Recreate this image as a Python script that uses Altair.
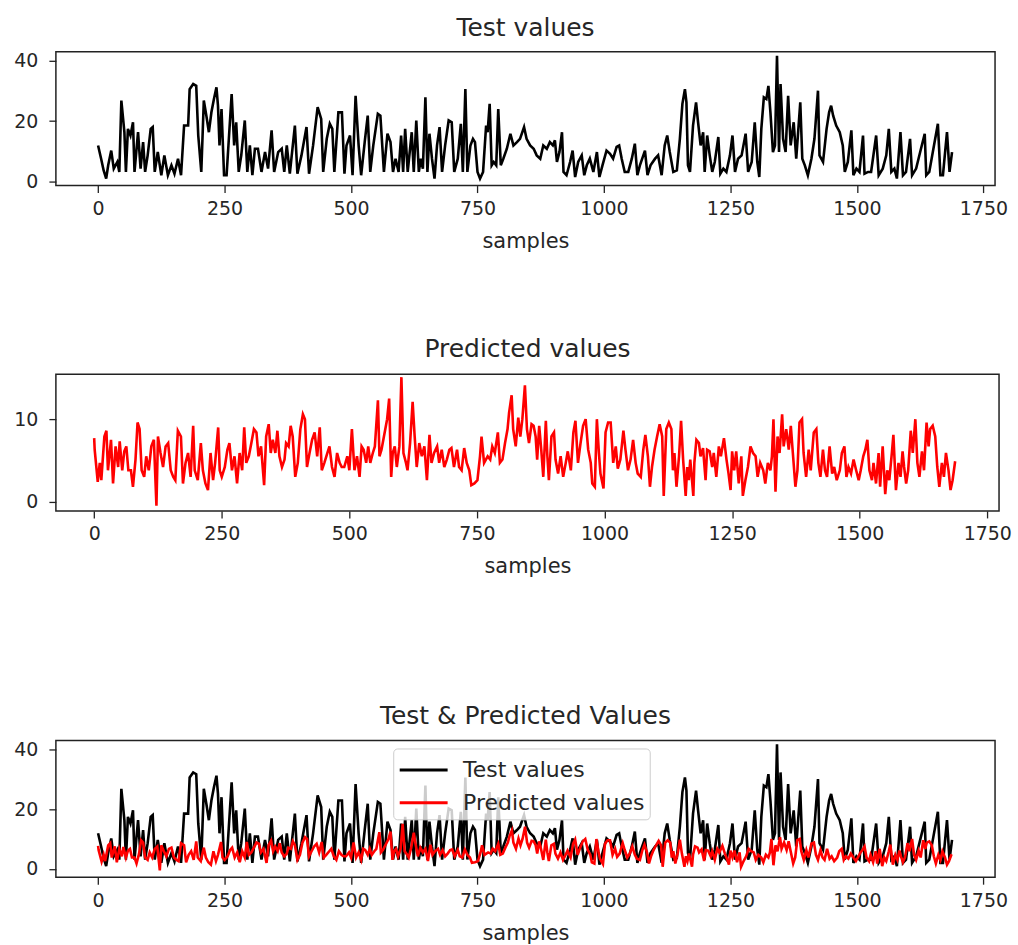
import altair as alt
import pandas as pd

# ---------------- data ----------------
test_samples = [0, 6, 11, 16, 20, 26, 31, 38, 42, 46, 52, 55, 59, 64, 69, 72, 79, 84, 89, 93, 98, 104, 108, 112,
                118, 125, 131, 138, 145, 151, 158, 164, 170, 178, 181, 188, 194, 198, 204, 209, 214, 219, 224, 229,
                234, 237, 240, 244, 249, 254, 264, 269, 273, 278, 283, 290, 295, 300, 305, 310, 316, 323, 330, 336,
                343, 348, 356, 363, 368, 373, 379, 389, 394, 402, 412, 417, 425, 434, 441, 445, 452, 458, 463, 467,
                475, 482, 487, 491, 498, 503, 509, 515, 520, 527, 533, 538, 544, 553, 558,
                565, 572, 578, 583, 588, 594, 599, 603, 607, 612, 620, 624, 629, 634, 638, 642, 647, 651, 655, 660,
                665, 670, 675, 680, 686, 693, 699, 704, 711, 717, 721, 726, 730, 736, 741, 745, 750, 755, 761, 767,
                770, 774, 778, 782, 787, 791, 796, 801, 808, 815, 821, 828, 834, 842, 847, 854, 861, 867, 874, 880,
                887, 893, 899, 903, 907, 912, 917, 920, 926, 933, 938, 943, 949, 956, 961, 966, 972, 979, 986, 991,
                997, 1005, 1012, 1018, 1025, 1030, 1035, 1041, 1048, 1055, 1061, 1066, 1071, 1081, 1086, 1092, 1101,
                1107, 1114, 1120, 1125, 1130, 1137, 1144,
                1150, 1155, 1160, 1163, 1166, 1170, 1176, 1182, 1186, 1191, 1196, 1199, 1204, 1209, 1214, 1219, 1226,
                1230, 1236, 1242, 1249, 1254, 1259, 1265, 1272, 1280, 1285, 1292, 1298, 1303, 1307, 1311, 1316, 1321,
                1325, 1329, 1334, 1338, 1342, 1346, 1349, 1354, 1359, 1364, 1369, 1375, 1380, 1388, 1392, 1397, 1403,
                1410, 1416, 1423, 1426, 1433, 1440, 1445, 1449, 1453, 1459, 1466, 1472, 1476, 1482, 1489, 1493, 1499,
                1505, 1512, 1515, 1522, 1528, 1538, 1543, 1551, 1558, 1563, 1568, 1574, 1579, 1586, 1591, 1597, 1605,
                1609, 1617, 1625, 1634, 1637, 1643, 1650, 1660, 1665, 1670, 1678, 1683, 1688]
test_values = [11.9, 7.5, 3.6, 0.9, 5.3, 10.2, 4.2, 6.4, 3.1, 26.8, 16.3, 3.1, 17.4, 15.2, 19.6, 3.1, 16.3, 4.2, 13.0,
               3.1, 8.6, 17.4, 18.0, 3.1, 9.7, 2.0, 8.6, 2.0, 5.3, 2.5, 7.5, 2.0, 18.5, 18.5, 30.6, 32.3, 31.7, 15.2,
               3.1, 26.8, 21.8, 16.3, 22.9, 27.3, 31.2, 25.1, 11.9, 24.0, 2.0, 2.0, 29.0, 11.9, 19.6, 3.1, 8.6, 20.2,
               3.1, 11.9, 2.0, 10.8, 10.8, 3.1, 9.7, 4.2, 16.9, 3.1, 9.7, 10.8, 3.1, 11.9, 2.5, 18.5, 2.5, 8.6, 18.0,
               2.5, 11.9, 24.6, 20.7, 3.1, 14.1, 19.1, 17.4, 3.1, 22.9, 22.9, 2.5, 11.9, 15.2, 2.0, 28.4, 11.9, 2.0,
               13.0, 21.8, 3.1, 11.9, 22.4, 21.8,
               3.1, 15.8, 13.0, 3.1, 7.5, 3.1, 15.2, 3.1, 17.4, 3.1, 16.3, 3.1, 20.2, 3.1, 7.5, 4.2, 27.9, 3.1, 15.8,
               7.5, 0.9, 11.9, 18.0, 3.1, 11.9, 20.2, 19.6, 3.1, 7.5, 19.1, 3.1, 30.6, 3.1, 11.9, 14.1, 13.0, 3.1,
               0.9, 3.1, 18.5, 16.3, 25.7, 5.3, 6.4, 5.3, 24.0, 5.3, 7.5, 10.8, 15.8, 11.9, 13.0, 14.1, 18.0, 14.1,
               11.9, 10.8, 8.6, 7.5, 11.9, 10.8, 13.0, 11.9, 13.6, 6.4, 9.7, 16.3, 3.1, 2.0, 6.4, 10.2, 1.4, 6.4, 8.6,
               2.0, 5.3, 7.5, 3.1, 9.7, 1.4, 5.3, 10.2, 9.1, 7.5, 11.4, 11.9, 7.5, 3.1, 3.1, 7.5, 12.5, 2.0, 5.3, 10.2,
               2.0, 5.3, 7.5, 8.6, 2.0, 11.9, 15.2, 9.7, 3.1, 3.6,
               14.1, 25.7, 30.6, 26.2, 5.3, 3.1, 18.5, 26.2, 19.6, 11.9, 16.3, 3.1, 15.2, 8.6, 3.1, 6.4, 14.7, 2.5,
               4.2, 3.1, 8.6, 15.2, 3.1, 7.5, 8.6, 15.8, 3.1, 6.4, 19.6, 6.4, 1.4, 17.4, 27.9, 27.3, 31.7, 22.9, 9.7,
               11.9, 41.7, 9.7, 32.3, 14.1, 9.7, 28.4, 11.9, 19.6, 7.5, 26.2, 7.5, 5.3, 2.0, 7.5, 14.1, 30.1, 8.6, 6.4,
               17.4, 22.9, 25.1, 21.8, 18.5, 16.3, 11.9, 3.1, 6.4, 16.9, 2.0, 4.2, 3.1, 15.2, 2.5, 3.1, 3.1, 15.2, 2.0,
               4.2, 8.6, 17.4, 3.1, 4.2, 0.9, 16.3, 2.0, 3.1, 14.1, 2.0, 4.2, 9.7, 15.8, 2.0, 3.1, 9.7, 19.1, 2.0, 2.0,
               16.3, 3.1, 9.7]

pred_samples = [0, 1, 7, 11, 14, 20, 24, 27, 33, 37, 42, 47, 50, 55, 59, 63, 67, 72, 76, 81, 85, 89, 93, 98, 102,
                107, 112, 117, 122, 125, 130, 135, 140, 145, 150, 155, 159, 164, 170, 174, 179, 184, 189, 194, 197,
                203, 209, 213, 218, 223, 228, 233, 237, 243, 246, 250, 256, 261, 265, 270, 275, 280, 285, 290, 294,
                298, 303, 308, 313, 318, 322, 327, 333, 337, 342, 346, 350, 355, 359, 363, 368, 373, 376, 381, 385,
                389, 394, 399, 404, 409, 413, 417, 422, 427, 432, 437, 442, 446, 451, 457, 461, 466, 471, 476, 481,
                485, 490, 496, 500, 505, 510, 515, 520, 524, 528, 533, 537, 541, 546, 550, 556, 559, 563,
                574, 578, 582, 585, 589, 593, 598, 602, 606, 611, 614, 619, 624, 628, 632, 637, 642, 647, 652, 657,
                661, 666, 672, 676, 681, 686, 691, 696, 700, 705, 711, 715, 720, 725, 730, 735, 739, 745, 751, 756,
                759, 764, 771, 776, 780, 785, 791, 795, 800, 805, 810, 813, 818, 821, 826, 831, 835, 839, 844, 848,
                852, 857, 861, 865, 868, 872, 876, 880, 885, 888, 891, 896, 901, 904, 909, 914, 919, 924, 928, 934,
                939, 943, 948, 953, 958, 963, 968, 973, 976, 981, 985, 989, 992, 998, 1002, 1007, 1012, 1017, 1022,
                1026, 1031, 1037, 1041, 1046, 1051, 1056, 1061, 1065, 1071, 1076, 1080, 1085, 1089, 1093, 1098, 1103,
                1108, 1113, 1116, 1121, 1126, 1131, 1134,
                1137, 1141, 1146, 1150, 1154, 1159, 1162, 1165, 1168, 1174, 1176, 1180, 1185, 1188, 1193, 1198, 1201,
                1206, 1211, 1214, 1219, 1224, 1228, 1234, 1239, 1243, 1247, 1250, 1254, 1258, 1263, 1268, 1271, 1276,
                1281, 1286, 1291, 1296, 1300, 1305, 1311, 1315, 1320, 1325, 1328, 1331, 1335, 1339, 1343, 1348, 1351,
                1356, 1361, 1365, 1369, 1374, 1378, 1382, 1387, 1390, 1395, 1400, 1404, 1410, 1415, 1419, 1423, 1428,
                1432, 1436, 1441, 1446, 1450, 1455, 1461, 1465, 1470, 1474, 1478, 1483, 1488, 1493, 1498, 1502, 1507,
                1511, 1515, 1519, 1524, 1527, 1532, 1537, 1540, 1545, 1550, 1554, 1558, 1563, 1566, 1571, 1576, 1580,
                1584, 1587, 1591, 1595, 1600, 1604, 1609, 1613, 1617, 1622, 1626, 1631, 1635, 1638, 1643, 1648, 1652,
                1656, 1661, 1665, 1669, 1674, 1678, 1682, 1687]
pred_values = [7.7, 6.3, 2.4, 4.7, 2.6, 7.9, 8.6, 3.8, 7.5, 2.2, 6.7, 4.2, 7.3, 3.8, 6.1, 6.7, 3.8, 3.8, 1.8, 5.1,
               9.6, 8.8, 3.8, 3.0, 5.5, 3.8, 6.7, 7.5, -0.5, 7.9, 5.9, 4.2, 6.7, 7.1, 3.8, 3.0, 2.6, 8.6, 7.9, 2.2,
               4.7, 5.9, 3.0, 9.2, 3.8, 2.6, 7.1, 3.8, 2.2, 1.4, 5.9, 2.6, 4.7, 9.0, 3.8, 3.0, 4.2, 6.3, 7.1, 3.8,
               5.5, 2.2, 5.9, 3.8, 9.0, 4.7, 5.5, 7.1, 8.8, 8.4, 5.5, 6.7, 2.0, 7.9, 9.4, 5.9, 7.5, 5.9, 8.6, 5.5,
               4.2, 5.1, 7.1, 6.7, 9.2, 7.9, 3.0, 4.7, 8.8, 10.6, 10.0, 4.2, 5.9, 7.5, 8.4, 5.5, 9.0, 3.8, 4.7, 5.9,
               6.7, 4.2, 3.0, 5.9, 4.7, 4.2, 4.2, 5.5, 3.8, 8.8, 3.8, 5.5, 3.0, 6.7, 6.3, 4.7, 6.7, 4.7, 5.9, 6.7,
               12.3, 5.5, 6.3,
               10.0, 12.5, 3.0, 5.9, 6.7, 4.2, 6.7, 15.1, 5.9, 4.7, 3.8, 7.1, 12.1, 7.9, 4.2, 7.1, 5.5, 6.7, 2.6,
               8.1, 4.7, 5.9, 6.7, 4.7, 6.3, 4.2, 5.1, 6.3, 6.5, 4.2, 6.3, 4.2, 3.8, 6.5, 4.7, 3.8, 2.0, 2.2, 2.6,
               5.5, 7.9, 4.7, 5.5, 5.1, 6.7, 5.9, 8.4, 4.7, 5.1, 7.1, 8.8, 10.8, 12.9, 8.8, 6.7, 10.2, 7.9, 10.0,
               14.1, 8.8, 7.1, 9.4, 9.2, 7.9, 5.1, 9.2, 6.3, 3.0, 9.8, 5.5, 2.6, 7.9, 8.4, 5.1, 3.4, 5.5, 3.0, 4.7,
               6.1, 3.8, 8.4, 9.8, 4.7, 7.1, 9.2, 10.0, 6.3, 4.7, 2.2, 1.8, 10.0, 5.9, 3.4, 1.6, 8.4, 9.6, 9.6, 4.7,
               6.7, 4.0, 5.1, 8.6, 6.3, 3.8, 5.1, 7.5, 4.7, 3.4, 3.0, 6.3, 8.1, 5.5, 1.8, 4.2, 6.3, 7.9, 9.4, 7.9,
               0.7, 8.8, 9.6, 8.8, 3.8,
               5.9, 1.8, 5.5, 9.8, 5.1, 0.7, 4.2, 2.6, 5.1, 0.7, 4.7, 7.5, 7.1, 5.5, 6.5, 2.6, 6.3, 6.1, 4.2, 5.9,
               3.0, 6.7, 5.5, 7.7, 5.1, 3.4, 1.4, 6.1, 3.8, 6.1, 2.2, 5.5, 0.7, 2.6, 4.2, 6.7, 5.9, 5.5, 3.0, 4.7,
               3.8, 2.2, 4.7, 3.8, 5.5, 10.0, 1.2, 7.9, 5.9, 10.6, 6.7, 8.8, 6.3, 9.2, 5.9, 1.8, 3.8, 9.6, 10.0, 5.9,
               3.0, 6.3, 3.8, 8.4, 8.8, 4.7, 3.0, 6.3, 3.8, 3.0, 6.7, 3.4, 4.2, 2.6, 3.8, 5.9, 6.7, 3.0, 4.2, 3.4,
               5.1, 3.8, 2.6, 3.8, 5.5, 6.3, 7.5, 3.8, 2.6, 4.7, 2.2, 5.9, 1.8, 6.7, 0.9, 3.8, 2.6, 5.9, 8.1, 1.4,
               4.7, 3.0, 6.1, 4.2, 2.2, 3.8, 8.6, 5.9, 10.0, 4.7, 3.0, 6.1, 3.8, 9.6, 6.7, 8.8, 9.2, 7.9, 4.2, 1.8,
               4.7, 3.0, 5.9, 3.8, 1.4, 2.6, 4.9]

x_ticks = [0, 250, 500, 750, 1000, 1250, 1500, 1750]
series_names = ["Test values", "Predicted values"]
series_colors = ["#000000", "#ff0000"]
titles = ["Test values", "Predicted values", "Test & Predicted Values"]

# ---------------- chart ----------------
test_df = pd.DataFrame({"sample": test_samples, "value": test_values, "series": series_names[0]})
pred_df = pd.DataFrame({"sample": pred_samples, "value": pred_values, "series": series_names[1]})

FONT = "DejaVu Sans"
TXT = "#262626"
LW = 2.6


def xenc(domain):
    return alt.X("sample:Q", scale=alt.Scale(domain=domain, nice=False, zero=False),
                 axis=alt.Axis(values=x_ticks, title="samples", format="d"))


def yenc(domain, ticks):
    return alt.Y("value:Q", scale=alt.Scale(domain=domain, nice=False, zero=False),
                 axis=alt.Axis(values=ticks, title=None, format="d"))


def ttl(text):
    return alt.TitleParams(text=text, font=FONT, fontSize=25, fontWeight="normal", color=TXT,
                           anchor="middle", offset=10)


p1 = alt.Chart(test_df, title=ttl(titles[0])).mark_line(color=series_colors[0], strokeWidth=LW).encode(
    x=xenc([-83.4, 1773]), y=yenc([-1.43, 43.0], [0, 20, 40])
).properties(width=941, height=134)

p2 = alt.Chart(pred_df, title=ttl(titles[1])).mark_line(color=series_colors[1], strokeWidth=LW).encode(
    x=xenc([-75, 1773]), y=yenc([-1.13, 15.46], [0, 10])
).properties(width=945, height=137)

color = alt.Color("series:N", scale=alt.Scale(domain=series_names, range=series_colors),
                  legend=alt.Legend(title=None, orient="none", legendX=338, legendY=8,
                                    fillColor="rgba(255,255,255,0.8)", strokeColor="#cccccc",
                                    cornerRadius=4, padding=5,
                                    symbolType="M-1.6,0H1.6", symbolSize=900, symbolStrokeWidth=3,
                                    symbolOffset=9, labelOffset=23, rowPadding=5, labelLimit=400,
                                    labelFont=FONT, labelFontSize=22, labelColor=TXT))

l_test = alt.Chart(test_df).mark_line(strokeWidth=LW).encode(
    x=xenc([-83.4, 1773]), y=yenc([-2.8, 43.0], [0, 20, 40]), color=color)
l_pred = alt.Chart(pred_df).mark_line(strokeWidth=LW).encode(
    x=xenc([-83.4, 1773]), y=yenc([-2.8, 43.0], [0, 20, 40]), color=color)
p3 = alt.layer(l_test, l_pred, title=ttl(titles[2])).properties(width=941, height=137)

top = alt.vconcat(p1, p2, spacing=84).resolve_scale(x="independent", y="independent")
chart = alt.vconcat(top, p3, spacing=125).resolve_scale(
    x="independent", y="independent", color="independent"
).properties(
    padding={"left": 13, "top": 13, "right": 5, "bottom": 0}
).configure_view(
    stroke="#222222", strokeWidth=1.5
).configure_axis(
    labelFont=FONT, labelFontSize=19, labelColor=TXT,
    titleFont=FONT, titleFontSize=21, titleFontWeight="normal", titleColor=TXT,
    tickColor="#222222", tickSize=7, tickWidth=1.3, domain=False, grid=False
).configure_axisX(
    labelPadding=7, titlePadding=12
).configure_axisY(
    labelPadding=11
)

chart.save("out.html", embed_options={"renderer": "svg", "actions": False})
